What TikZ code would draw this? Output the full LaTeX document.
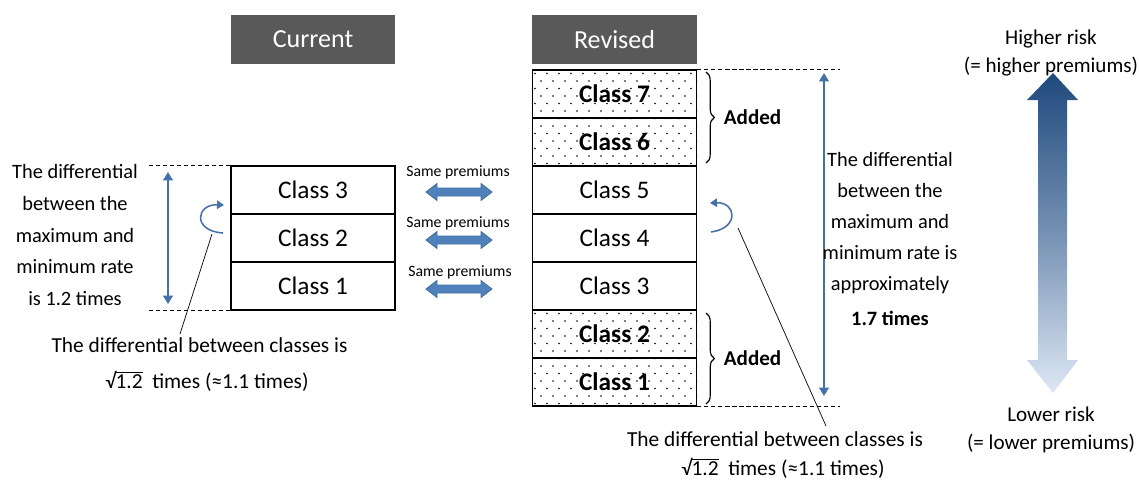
\documentclass[tikz,border=0pt]{standalone}
\usepackage{fontspec}
\setmainfont{Carlito}
\usetikzlibrary{arrows.meta,decorations.pathreplacing}

\definecolor{headgray}{RGB}{89,89,89}
\definecolor{arrowblue}{RGB}{68,114,168}
\definecolor{blockfill}{RGB}{79,129,189}
\definecolor{blockline}{RGB}{65,113,156}
\definecolor{riskdark}{RGB}{31,73,125}
\definecolor{risklight}{RGB}{222,232,245}

\newcommand{\rootval}[1]{√\kern-0.4pt$\overline{\mbox{#1}}$}

\tikzset{
	classbox/.style={draw, line width=0.9pt, minimum width=4.1cm, minimum height=1.2cm, inner sep=0pt, font=\fontsize{18}{20}\selectfont},
	addedbox/.style={classbox, font=\fontsize{18}{20}\selectfont\bfseries},
	headbox/.style={fill=headgray, minimum width=4.1cm, minimum height=1.2cm, inner sep=0pt, text=white, font=\fontsize{18.5}{20}\selectfont},
	note/.style={align=center, inner sep=0pt, font=\fontsize{14.5}{22.6}\selectfont},
	diffnote/.style={inner sep=0pt, font=\fontsize{15.2}{18}\selectfont},
	smallnote/.style={inner sep=0pt, font=\fontsize{11.2}{13}\selectfont},
	dashline/.style={dash pattern=on 3pt off 2pt, line width=0.6pt},
	vdim/.style={{Triangle[width=7pt,length=6pt]}-{Triangle[width=7pt,length=6pt]}, arrowblue, line width=1.1pt},
	curl/.style={-{Triangle[width=6pt,length=5pt]}, arrowblue, line width=1.1pt},
	blockarrow/.style={fill=blockfill, draw=blockline, line width=0.6pt},
	addbrace/.style={decorate, decoration={brace, amplitude=6pt}, line width=0.8pt}
}

\begin{document}
\begin{tikzpicture}[x=0.025cm, y=-0.025cm]
	\useasboundingbox (0,0) rectangle (1139,481);

	% headers
	\node[headbox] (hcur) at (313,39.5) {Current};
	\node[headbox] (hrev) at (614.5,39.5) {Revised};

	% dot pattern of the added classes
	\begin{scope}
		\clip (532,70) rectangle (697,166) (532,310) rectangle (697,406);
		\foreach \i in {0,...,45}
			\foreach \j in {0,...,14}
				\fill ({535+12*\j+6*mod(\i,2)},{73.5+7.5*\i}) circle (0.55pt);
	\end{scope}

	% current classes
	\node[classbox] (c3) at (313,190) {Class 3};
	\node[classbox] (c2) at (313,238) {Class 2};
	\node[classbox] (c1) at (313,286) {Class 1};

	% revised classes
	\node[addedbox] (r7) at (614.5,94) {Class 7};
	\node[addedbox] (r6) at (614.5,142) {Class 6};
	\node[classbox] (r5) at (614.5,190) {Class 5};
	\node[classbox] (r4) at (614.5,238) {Class 4};
	\node[classbox] (r3) at (614.5,286) {Class 3};
	\node[addedbox] (r2) at (614.5,334) {Class 2};
	\node[addedbox] (r1) at (614.5,382) {Class 1};

	% same premiums
	\node[smallnote] (p3) at (458,172) {Same premiums};
	\node[smallnote] (p2) at (458,223) {Same premiums};
	\node[smallnote] (p1) at (460,272) {Same premiums};
	\foreach \y in {192,240,289}
		\draw[blockarrow] (426,\y) -- ++(11,-8.5) -- ++(0,4.5) -- ++(44,0) -- ++(0,-4.5) -- ++(11,8.5)
			-- ++(-11,8.5) -- ++(0,-4.5) -- ++(-44,0) -- ++(0,4.5) -- cycle;

	% left side
	\draw[dashline] (c3.north west) -- ++(-81,0);
	\draw[dashline] (c1.south west) -- ++(-81,0);
	\draw[vdim] (168,172) -- (168,304);
	\node[note] (lrange) at (75,235) {The differential\\between the\\maximum and\\minimum rate\\is 1.2 times};
	\draw[curl] (223,233) .. controls (192,231) and (196,204) .. (224,205);
	\coordinate (lcurl) at (212,234);
	\node[diffnote] (ldiffa) at (199.5,345) {The differential between classes is};
	\node[diffnote] (ldiffb) at (207,381) {\rootval{1.2}\ \ times (≈1.1 times)};
	\coordinate (lend) at (180,334);
	\draw[line width=0.5pt] (lcurl) -- (lend);

	% right side
	\draw[dashline] (r7.north east) -- ++(143,0);
	\draw[dashline] (r1.south east) -- ++(143,0);
	\draw[vdim] (824,73) -- (824,396);
	\node[note, font=\fontsize{14.5}{22}\selectfont] (rrange) at (890,239) {The differential\\between the\\maximum and\\minimum rate is\\approximately\\[3pt]\textbf{1.7 times}};
	\draw[addbrace] (706,72) -- (706,163) node[midway, right=9pt, font=\fontsize{15}{18}\selectfont\bfseries] (atop) {Added};
	\draw[addbrace] (706,313) -- (706,404) node[midway, right=9pt, font=\fontsize{15}{18}\selectfont\bfseries] (abot) {Added};
	\draw[curl] (711,232) .. controls (740,228) and (736,202) .. (710,203);
	\coordinate (rcurl) at (738,228);
	\node[diffnote] (rdiffa) at (775,439) {The differential between classes is};
	\node[diffnote] (rdiffb) at (783,468) {\rootval{1.2}\ \ times (≈1.1 times)};
	\coordinate (rend) at (826,426);
	\draw[line width=0.5pt] (rcurl) -- (rend);

	% risk scale
	\node[note, font=\fontsize{15}{19.5}\selectfont] (high) at (1051,53) {Higher risk\\(= higher premiums)};
	\node[note, font=\fontsize{15}{19.5}\selectfont] (low) at (1051,430) {Lower risk\\(= lower premiums)};
	\shade[top color=riskdark, bottom color=risklight, middle color=riskdark!55!risklight]
		(1053,73) -- (1078,100) -- (1067,100) -- (1067,360) -- (1078,360) -- (1053,393)
		-- (1027,360) -- (1038,360) -- (1038,100) -- (1027,100) -- cycle;
\end{tikzpicture}
\end{document}
